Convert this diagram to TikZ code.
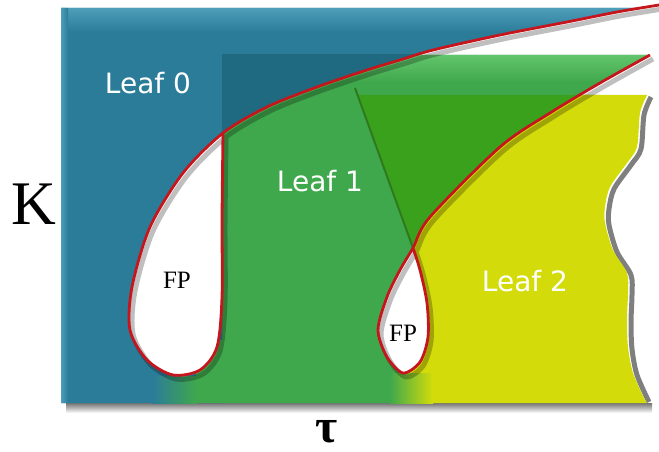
\documentclass[tikz,border=0pt]{standalone}
\usepackage{fontspec}
\setmainfont{Liberation Serif}
\newfontfamily\leaffont{DejaVu Sans}

\definecolor{leafzero}{HTML}{2B7C99}
\definecolor{leafzerotop}{HTML}{4E9EBA}
\definecolor{leafzerodark}{HTML}{1F6A80}
\definecolor{leafone}{HTML}{40A84C}
\definecolor{leafonetop}{HTML}{62C46C}
\definecolor{leafonedark}{HTML}{3AA11C}
\definecolor{leafline}{HTML}{2E7A1C}
\definecolor{leaftwo}{HTML}{D3DC0A}
\definecolor{boundary}{HTML}{C4161C}

% region paths (1pt = 1px, y downwards)
\newcommand\leafzeropath{(61,8) -- (645,8) -- (659,5) -- plot[smooth] coordinates {(659,5) (617,12) (567,22) (500,35) (433,50) (400,60) (367,70) (317,87) (267,107) (223,133) (183,173)} -- (222,173) -- (222,403) -- (61,403) -- cycle}
\newcommand\leafonepath{(222,55) -- (650,55) -- plot[smooth] coordinates {(650,55) (600,83) (550,113) (500,147) (430,217) (413,248)} -- plot[smooth] coordinates {(413,248) (420,270) (427,303) (428,337) (420,362) (403,373)} -- (403,403) -- (222,403) -- cycle}
\newcommand\leaftwoside{plot[smooth] coordinates {(650,55) (600,83) (550,113) (500,147) (430,217) (413,248)} -- plot[smooth] coordinates {(413,248) (420,270) (427,303) (428,337) (420,362) (403,373)} -- (403,403) -- (659,403) -- (659,55) -- cycle}
\newcommand\leaftwoedge{plot[smooth] coordinates {(647,95) (640,113) (637,147) (627,163) (610,187) (605,207) (605,223) (613,250) (627,273) (628,293) (627,320) (628,347) (633,373) (645,400)}}
\newcommand\leaftwoclip{(380,95) -- (647,95) -- plot[smooth] coordinates {(647,95) (640,113) (637,147) (627,163) (610,187) (605,207) (605,223) (613,250) (627,273) (628,293) (627,320) (628,347) (633,373) (645,400)} -- (647,403) -- (380,403) -- cycle}
\newcommand\curvezero{plot[smooth] coordinates {(659,5) (617,12) (567,22) (500,35) (433,50) (400,60) (367,70) (317,87) (267,107) (223,133) (183,173) (150,227) (132,287) (130,330) (147,360) (173,375) (200,370) (217,347) (222,297) (222,220) (223,133)}}
\newcommand\curveone{plot[smooth] coordinates {(650,55) (600,83) (550,113) (500,147) (430,217) (413,248) (400,270) (387,297) (378,330) (387,357) (403,373) (420,362) (428,337) (427,303) (420,270) (413,248)}}

\begin{document}
\begin{tikzpicture}[x=1pt, y=-1pt,
  leaflabel/.style={font=\leaffont\fontsize{28}{28}\selectfont, text=white, inner sep=0pt},
  fplabel/.style={font=\fontsize{25}{25}\selectfont, inner sep=0pt},
  axislabel/.style={font=\fontsize{62}{62}\selectfont, inner sep=0pt},
  curve/.style={draw=boundary, line width=2.8pt, line join=round},
  curveshadow/.style={draw=black, opacity=.25, line width=5pt, shift={(3,4)}}]
\useasboundingbox (0,0) rectangle (659,452);

% drop shadows
\shade[top color=black!55, bottom color=white] (66,403) rectangle (652,413);
\draw[black, opacity=.5, line width=5pt, shift={(4,2)}] \leaftwoedge;

% Leaf 1
\fill[leafone] \leafonepath;
\begin{scope}
  \clip \leafonepath;
  \shade[top color=leafonetop, bottom color=leafone] (222,55) rectangle (659,82);
\end{scope}
\fill[leafonedark] (358,95) -- (600,95) -- (413,248) -- cycle;
\draw[leafline, line width=2pt] (355,88) -- (413,248);

% Leaf 2
\begin{scope}
  \clip \leaftwoclip;
  \fill[leaftwo] \leaftwoside;
\end{scope}

% Leaf 0
\fill[leafzero] \leafzeropath;
\begin{scope}
  \clip \leafzeropath;
  \shade[top color=leafzerotop, bottom color=leafzero] (61,8) rectangle (659,32);
  \shade[left color=leafzerotop, right color=leafzero] (61,8) rectangle (68,403);
\end{scope}
\begin{scope}
  \clip (222,55) rectangle (659,403);
  \fill[leafzerodark] \leafzeropath;
\end{scope}

% soft borders at the bottom
\fill[leafone] (196,340) rectangle (222.5,403);
\shade[left color=leafzero, right color=leafone] (152,376) rectangle (197,403);
\shade[left color=leafone, right color=leaftwo] (390,373) rectangle (433,403);

% FP regions
\fill[white] plot[smooth] coordinates {(223,133) (183,173) (150,227) (132,287) (130,330) (147,360) (173,375) (200,370) (217,347) (222,297) (222,220) (223,133)} -- cycle;
\fill[white] plot[smooth] coordinates {(413,248) (400,270) (387,297) (378,330) (387,357) (403,373) (420,362) (428,337) (427,303) (420,270) (413,248)} -- cycle;

% boundaries
\path[curveshadow] \curvezero;
\path[curveshadow] \curveone;
\path[curve] \curvezero;
\path[curve] \curveone;

% labels
\node[leaflabel] (leafzero) at (148,83) {Leaf 0};
\node[leaflabel] (leafone) at (320,181) {Leaf 1};
\node[leaflabel] (leaftwo) at (525,281) {Leaf 2};
\node[fplabel] (fpzero) at (177,280) {FP};
\node[fplabel] (fpone) at (403,333) {FP};
\node[axislabel] (kaxis) at (34,204) {K};
\node[axislabel, font=\fontsize{48}{48}\selectfont\bfseries] (tauaxis) at (327,432) {τ};
\end{tikzpicture}
\end{document}
